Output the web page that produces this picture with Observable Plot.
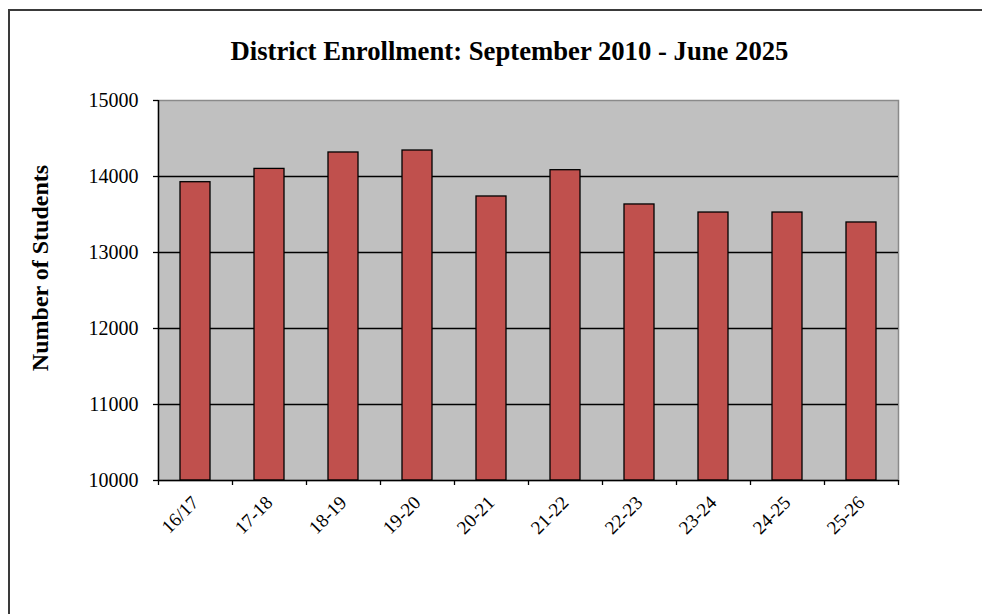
<!DOCTYPE html>
<html><head><meta charset="utf-8">
<script src="https://cdn.jsdelivr.net/npm/d3@7"></script>
<script src="https://cdn.jsdelivr.net/npm/@observablehq/plot@0.6"></script>
<style>
html,body{margin:0;padding:0;background:#fff;}
body{overflow:hidden;width:982px;height:614px;position:relative}
#border{position:absolute;left:8px;top:9px;width:1100px;height:800px;border:2px solid #3a3a3a;}
#chart{position:absolute;left:0;top:0}
#ylabel{position:absolute;left:40px;top:268px;transform:translate(-50%,-50%) rotate(-90deg);
  font-family:'Liberation Serif','Times New Roman',serif;font-weight:bold;font-size:24px;line-height:24px;white-space:nowrap;color:#000}
</style></head><body><div id="border"></div><div id="chart"></div><div id="ylabel"></div>
<script>
const chartTitle = "District Enrollment: September 2010 - June 2025";
const yLabel = "Number of Students";
const seasons = ["16/17","17-18","18-19","19-20","20-21","21-22","22-23","23-24","24-25","25-26"];
const enrollment = [13925, 14100, 14316, 14342, 13737, 14083, 13632, 13526, 13526, 13395];
const yTicks = [10000, 11000, 12000, 13000, 14000, 15000];
const gridValues = [11000, 12000, 13000, 14000];

const data = seasons.map((s, i) => ({season: s, students: enrollment[i]}));
const font = "'Liberation Serif','Times New Roman',serif";
const half = 37;

const plot = Plot.plot({
  width: 982, height: 614,
  marginLeft: 158, marginRight: 84, marginTop: 100, marginBottom: 134,
  style: {fontFamily: font, fontSize: "20px", background: "transparent", color: "#000", overflow: "visible"},
  x: {domain: seasons, paddingInner: 0.6, paddingOuter: 0.3, label: null},
  y: {domain: [yTicks[0], yTicks[yTicks.length - 1]], label: null},
  marks: [
    Plot.frame({fill: "#c0c0c0", stroke: "#8a8a8a", strokeWidth: 1.5}),
    Plot.ruleY(gridValues, {stroke: "#000", strokeWidth: 1.4}),
    Plot.barY(data, {x: "season", y1: yTicks[0], y2: "students", fill: "#c0504d", stroke: "#000", strokeWidth: 1.3}),
    Plot.ruleY([yTicks[0]], {stroke: "#000", strokeWidth: 1.4}),
    Plot.ruleX([seasons[0]], {dx: -half, stroke: "#000", strokeWidth: 1.4}),
    Plot.ruleX(seasons, {dx: -half, insetTop: 380, insetBottom: -5, stroke: "#000", strokeWidth: 1.3}),
    Plot.ruleX([seasons[seasons.length - 1]], {dx: half, insetTop: 380, insetBottom: -5, stroke: "#000", strokeWidth: 1.3}),
    Plot.axisY({ticks: yTicks, tickFormat: d3.format("d"), tickSize: 5, tickPadding: 15, fontSize: 20, stroke: "#000", strokeWidth: 1.3, label: null}),
    Plot.axisX({tickSize: 0, tickRotate: -45, tickPadding: 19, fontSize: 19, label: null}),
    Plot.text([chartTitle], {frameAnchor: "top", lineAnchor: "middle", dx: -19, dy: -49, fontSize: 26.7, fontWeight: "bold", fill: "#000"})
  ]
});
document.getElementById("chart").appendChild(plot);
document.getElementById("ylabel").textContent = yLabel;
</script>
</body></html>
